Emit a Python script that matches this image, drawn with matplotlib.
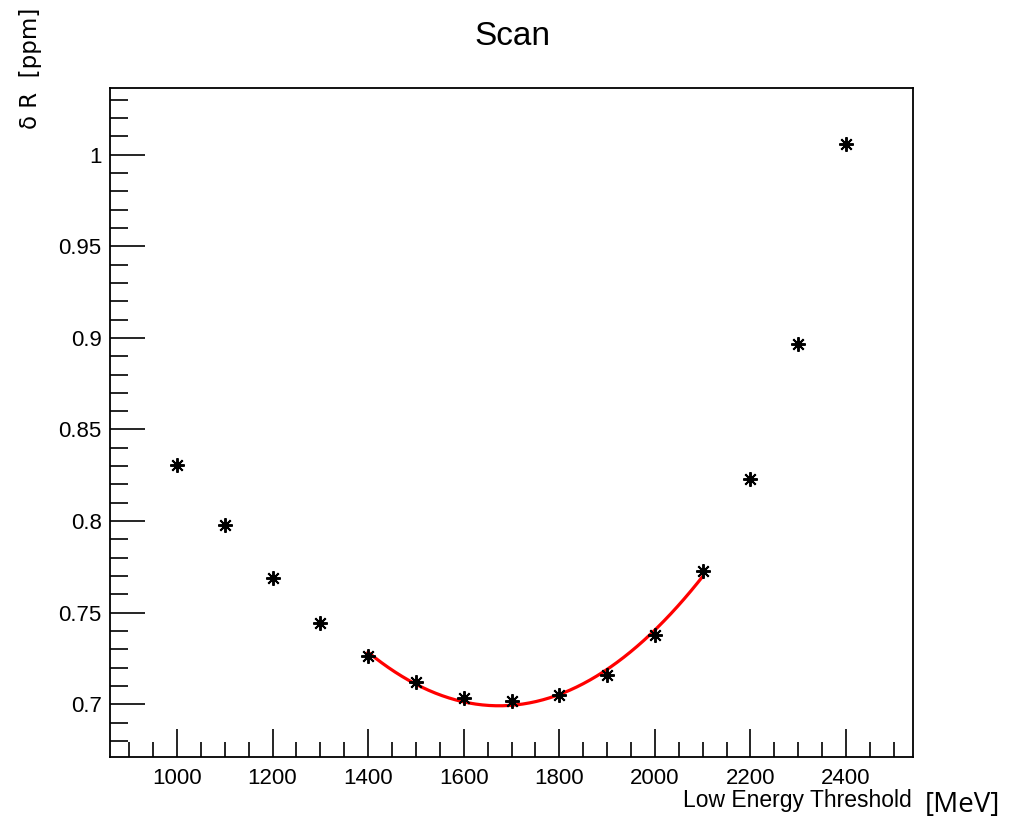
import numpy as np
import matplotlib
matplotlib.use("Agg")
import matplotlib.pyplot as plt
from matplotlib.ticker import MultipleLocator

threshold = [1000, 1100, 1200, 1300, 1400, 1500, 1600, 1700, 1800, 1900, 2000, 2100, 2200, 2300, 2400]
delta_r = [0.8305, 0.7976, 0.7688, 0.7444, 0.7263, 0.7120, 0.7032, 0.7016, 0.7050, 0.7159, 0.7378, 0.7729, 0.8228, 0.8969, 1.0060]
fit_range = [1400, 2100]

plt.rcParams['font.family'] = ['Liberation Sans', 'DejaVu Sans']

fig = plt.figure(figsize=(10.13, 8.19), dpi=100)
ax = fig.add_axes([110/1013, 1-757/819, (913-110)/1013, (757-88)/819])

x = np.array(threshold, dtype=float)
y = np.array(delta_r)
ax.plot(x, y, linestyle='none', marker=(8, 2, 0), markersize=10.5, markeredgewidth=1.4,
        color='black', zorder=3)

mask = (x >= fit_range[0]) & (x <= fit_range[1])
coef = np.polyfit(x[mask], y[mask], 2)
xf = np.linspace(fit_range[0], fit_range[1], 200)
ax.plot(xf, np.polyval(coef, xf), color='#ff0000', lw=2.3, zorder=2)

ax.set_xlim(860, 2540)
ax.set_ylim(0.6712, 1.0364)

ax.xaxis.set_major_locator(MultipleLocator(200))
ax.xaxis.set_minor_locator(MultipleLocator(50))
ax.yaxis.set_major_locator(MultipleLocator(0.05))
ax.yaxis.set_minor_locator(MultipleLocator(0.01))
ax.yaxis.set_major_formatter(matplotlib.ticker.FuncFormatter(lambda v, p: ('%g' % round(v, 3))))

ax.tick_params(axis='both', which='both', direction='in', top=False, right=False, labelsize=16)
ax.tick_params(axis='x', which='major', length=20, width=1.2, pad=8)
ax.tick_params(axis='x', which='minor', length=11, width=1.2)
ax.tick_params(axis='y', which='major', length=25, width=1.2, pad=6)
ax.tick_params(axis='y', which='minor', length=13, width=1.2)
for s in ax.spines.values():
    s.set_linewidth(1.3)

fig.text(512/1013, 1-45/819, 'Scan', ha='center', va='baseline', fontsize=24)
fig.text(912/1013, 1-807/819, 'Low Energy Threshold', ha='right', va='baseline', fontsize=16.5)
fig.text(925/1013, 1-812/819, '[MeV]', ha='left', va='baseline', fontsize=20, family=['Open Sans'])
fig.text(30/1013, 1-8/819, 'δ R  [ppm]', ha='center', va='top', rotation=90, fontsize=16.5,
         family=['DejaVu Sans'])

fig.savefig('out.png', dpi=100)
